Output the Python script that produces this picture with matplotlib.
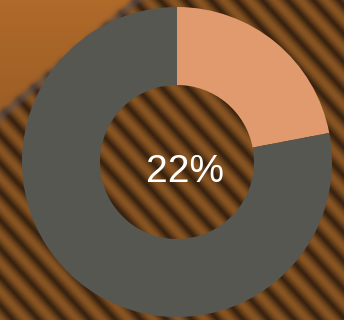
import numpy as np
import matplotlib
matplotlib.use('Agg')
from matplotlib import pyplot as plt

# Share of the ring taken by the highlighted part
labels = ['share', 'rest']
values = [22, 78]
colors = ['#E09A6E', '#575752']

W, H = 344, 320

# ── Wood-stripe backdrop ──────────────────────────────────────────────────
yy, xx = np.mgrid[0:H, 0:W].astype(float)
ang = np.deg2rad(48)
phase = (-np.sin(ang) * xx + np.cos(ang) * yy) / 19.0
t = 0.5 + 0.5 * np.sin(2 * np.pi * phase)
t = t ** 0.7
dark = np.array([0x38, 0x22, 0x0f]) / 255
light = np.array([0x88, 0x54, 0x22]) / 255
bg = dark + (light - dark) * t[..., None]

# Out-of-focus plank in the upper left corner
line_len = np.hypot(1 / 132, 1 / 112)
dist = (xx / 132 + yy / 112 - 1) / line_len
plank = (0.5 - 0.5 * np.tanh(dist / 3.0))[..., None]
plank_col = np.array([0xb0, 0x6a, 0x2a]) / 255 * (1 - 0.12 * (yy / 120)[..., None])
bg = bg * (1 - plank) + plank_col * plank
shadow = np.exp(-((dist - 3) / 4.0) ** 2)[..., None]
bg = bg * (1 - 0.5 * shadow) + np.array([0.33, 0.32, 0.36]) * 0.5 * shadow
bg = np.clip(bg, 0, 1)

fig = plt.figure(figsize=(W / 100, H / 100), dpi=100)
ax = fig.add_axes([0, 0, 1, 1])
ax.imshow(bg, extent=(0, W, 0, H), origin='upper', zorder=0,
          interpolation='bilinear')

# ── Donut ─────────────────────────────────────────────────────────────────
cx, cy, r = 177, H - 162, 155
ax.pie(values, colors=colors, startangle=90, counterclock=False,
       center=(cx, cy), radius=r, frame=True,
       wedgeprops=dict(width=r - 77, linewidth=0, zorder=2))
ax.text(cx + 8, H - 182, f'{values[0]}%', ha='center', va='baseline',
        color='white', fontsize=28, family='Liberation Sans', zorder=3)

ax.set_xlim(0, W)
ax.set_ylim(0, H)
ax.set_aspect('auto')
ax.axis('off')

fig.savefig('out.png', dpi=100)
